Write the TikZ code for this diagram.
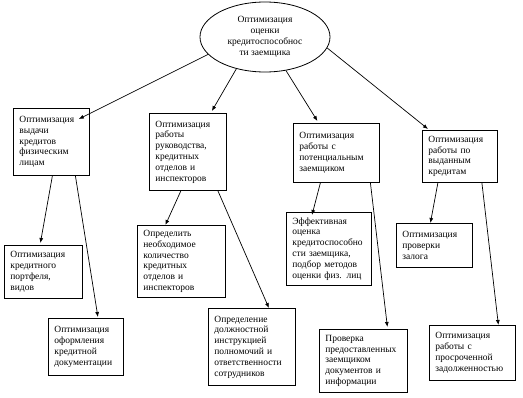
\documentclass[tikz,border=0pt]{standalone}
\usepackage{fontspec}
\setmainfont{Liberation Serif}
\usetikzlibrary{arrows.meta, shapes.geometric}

\begin{document}
\begin{tikzpicture}[
    x=1pt, y=-1pt,
    every node/.style={font=\fontsize{9.5}{10.8}\selectfont},
]

% ---------------------------------------------------------------- colours
\definecolor{linecol}{HTML}{000000}   % frames and arrows
\definecolor{textcol}{HTML}{000000}   % all the words

% ================================================================
% Geometry, taken in pixels from the page (y grows downwards):
%
%   oval    centre (265,37), 130 x 70
%   level 1 four boxes, tops 108 .. 130, bottoms 175 .. 190
%   level 2 eight boxes under them, two per box, staggered in height
%
%   every box: north west corner given, width and height fixed,
%   text left-aligned, 6pt in from the frame
% ================================================================

\tikzset{
    blok/.style={
        draw=linecol, line width=0.8pt, text=textcol,
        align=left, anchor=north west,
        inner xsep=6pt, inner ysep=3pt,
    },
    oval/.style={
        ellipse, draw=linecol, line width=0.8pt, text=textcol,
        align=center, inner sep=0pt,
        minimum width=130pt, minimum height=70pt,
    },
    arr/.style={draw=linecol, line width=0.7pt,
        -{Latex[length=5pt, width=4pt]}},
}

\useasboundingbox (0,0) rectangle (523,398);

% ================================================================ the oval
\node[oval] (ocenka) at (265,37)
    {Оптимизация\\оценки\\кредитоспособнос\\ти заемщика};

% ================================================================ level 1
\node[blok, text width=64pt, minimum width=76pt, minimum height=67pt]
    (vydacha) at (13,108)
    {Оптимизация\\выдачи\\кредитов\\физическим\\лицам};
\node[blok, text width=65pt, minimum width=77pt, minimum height=77pt]
    (rukovod) at (149,113)
    {Оптимизация\\работы\\руководства,\\кредитных\\отделов и\\инспекторов};
\node[blok, text width=74pt, minimum width=86pt, minimum height=59pt]
    (potenc) at (293,123)
    {Оптимизация\\работы с\\потенциальным\\заемщиком};
\node[blok, text width=63pt, minimum width=75pt, minimum height=52pt]
    (vydannye) at (422,130)
    {Оптимизация\\работы по\\выданным\\кредитам};

% ================================================================ level 2
\node[blok, text width=66pt, minimum width=78pt, minimum height=53pt]
    (portfel) at (4,245)
    {Оптимизация\\кредитного\\портфеля,\\видов};
\node[blok, text width=63pt, minimum width=75pt, minimum height=57pt]
    (oform) at (48,318)
    {Оптимизация\\оформления\\кредитной\\документации};
\node[blok, text width=76pt, minimum width=88pt, minimum height=72pt]
    (kolvo) at (137,225)
    {Определить\\необходимое\\количество\\кредитных\\отделов и\\инспекторов};
\node[blok, text width=75pt, minimum width=87pt, minimum height=77pt]
    (instr) at (208,308)
    {Определение\\должностной\\инструкцией\\полномочий и\\ответственности\\сотрудников};
\node[blok, text width=73pt, minimum width=85pt, minimum height=73pt]
    (effekt) at (286,212)
    {Эффективная\\оценка\\кредитоспособно\\сти заемщика,\\подбор методов\\оценки физ. лиц};
\node[blok, text width=76pt, minimum width=88pt, minimum height=63pt]
    (proverka) at (319,329)
    {Проверка\\предоставленных\\заемщиком\\документов и\\информации};
\node[blok, text width=64pt, minimum width=76pt, minimum height=44pt]
    (zalog) at (396,223)
    {Оптимизация\\проверки\\залога};
\node[blok, text width=74pt, minimum width=86pt, minimum height=55pt]
    (prosroch) at (429,325)
    {Оптимизация\\работы с\\просроченной\\задолженностью};

% ================================================================ arrows
% from the oval
\draw[arr] (ocenka.197) -- ([xshift=-11pt, yshift=-11pt]vydacha.north east);
\draw[arr] (ocenka.228) -- ([xshift=24pt, yshift=2pt]rukovod.north);
\draw[arr] (ocenka.302) -- ([xshift=-19pt, yshift=2pt]potenc.north);
\draw[arr] (ocenka.350) -- ([xshift=6pt, yshift=1pt]vydannye.north west);

% from level 1 down
\draw[arr] ([xshift=1pt]vydacha.south)   -- ([xshift=-3pt, yshift=2pt]portfel.north);
\draw[arr] ([xshift=24pt]vydacha.south)  -- ([xshift=12pt, yshift=1pt]oform.north);
\draw[arr] ([xshift=-7pt]rukovod.south)  -- ([xshift=-16pt]kolvo.north);
\draw[arr] ([xshift=30pt]rukovod.south)  -- ([xshift=17pt]instr.north);
\draw[arr] ([xshift=-16pt]potenc.south)  -- ([xshift=26pt, yshift=-3pt]effekt.north west);
\draw[arr] ([xshift=34pt]potenc.south)   -- ([xshift=24pt, yshift=2pt]proverka.north);
\draw[arr] ([xshift=-22pt]vydannye.south) -- ([xshift=-4pt]zalog.north);
\draw[arr] ([xshift=22pt]vydannye.south)  -- ([xshift=26pt]prosroch.north);

\end{tikzpicture}
\end{document}
